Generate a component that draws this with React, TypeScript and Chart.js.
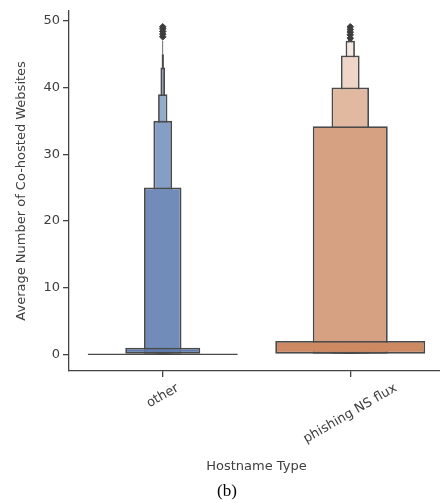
import React, { useEffect, useRef } from "react";
import { Chart, registerables } from "chart.js";
Chart.register(...registerables);

const categories = ["other", "phishing NS flux"];
// letter-value box widths (fraction of category band), widest first
const widthFractions = [0.8, 0.4, 0.2, 0.1, 0.05, 0.025, 0.0125, 0.00625];
const otherLows = [0, 0, 0, 0, 0, 0, 0, 0];
const otherTops = [0, 1, 25, 35, 39, 43, 45, 47];
const phishingLows = [0, 0, 0, 0, 0, 0, null, null];
const phishingTops = [2, 34.2, 40, 44.8, 47, 47.6, null, null];
const otherColors = ["#555555", "#5d7aad", "#718cb8", "#859ec5", "#94aacc", "#a8b9d6", "#bac8de", "#cdd7e8"];
const phishingColors = ["#cd8962", "#d6a083", "#e1b9a1", "#eed5c7", "#f5e8e2", "#f8f0ec", "#ffffff", "#ffffff"];
const otherOutliers = [47.6, 48.0, 48.4, 48.8, 49.1];
const phishingOutliers = [47.4, 47.9, 48.3, 48.7, 49.1];
const yTicks = [0, 10, 20, 30, 40, 50];
const yTitle = "Average Number of Co-hosted Websites";
const xTitle = "Hostname Type";
const caption = "(b)";

const FONT = "DejaVu Sans";
const TEXT = "#404040";
const EDGE = "#4a4a4a";

export default function App() {
  const ref = useRef<HTMLCanvasElement | null>(null);
  useEffect(() => {
    if (!ref.current) return;
    const datasets: any[] = widthFractions.map((w, i) => ({
      type: "bar",
      data: [
        [otherLows[i], otherTops[i]],
        phishingTops[i] == null ? null : [phishingLows[i], phishingTops[i]],
      ],
      backgroundColor: [otherColors[i], phishingColors[i]],
      borderColor: EDGE,
      borderWidth: 1.8,
      borderSkipped: false,
      grouped: false,
      categoryPercentage: 1,
      barPercentage: w,
      minBarLength: i === 0 ? 1.6 : 0,
      order: i,
    }));
    datasets.push({
      type: "line",
      data: [
        ...otherOutliers.map((y) => ({ x: categories[0], y })),
        ...phishingOutliers.map((y) => ({ x: categories[1], y })),
      ],
      showLine: false,
      pointStyle: "rectRot",
      pointRadius: 3.3,
      pointBackgroundColor: "#3d3d3d",
      pointBorderColor: "#3d3d3d",
      pointBorderWidth: 1,
      order: -1,
    });

    const textPlugin = {
      id: "texts",
      afterDraw(chart: any) {
        const ctx = chart.ctx;
        const xs = chart.scales.x;
        const area = chart.chartArea;
        ctx.save();
        ctx.fillStyle = TEXT;
        ctx.font = `13px "${FONT}"`;
        const ang = (30 * Math.PI) / 180;
        categories.forEach((c, i) => {
          const px = xs.getPixelForValue(i);
          const w = ctx.measureText(c).width;
          const h = 10;
          const bh = w * Math.sin(ang) + h * Math.cos(ang);
          const cy = area.bottom + 12 + bh / 2;
          ctx.save();
          ctx.translate(px, cy);
          ctx.rotate(-ang);
          ctx.textAlign = "center";
          ctx.textBaseline = "middle";
          ctx.fillText(c, 0, 0);
          ctx.restore();
        });
        ctx.textAlign = "center";
        ctx.textBaseline = "middle";
        ctx.fillText(xTitle, (area.left + area.right) / 2, 467);
        ctx.save();
        ctx.translate(22, (area.top + area.bottom) / 2);
        ctx.rotate(-Math.PI / 2);
        ctx.fillText(yTitle, 0, 0);
        ctx.restore();
        ctx.fillStyle = "#000";
        ctx.font = `17px "Liberation Serif"`;
        ctx.fillText(caption, 227, 492);
        ctx.restore();
      },
    };

    const chart = new Chart(ref.current, {
      type: "bar",
      data: { labels: categories, datasets },
      options: {
        animation: false,
        responsive: false,
        devicePixelRatio: 1,
        layout: { padding: { top: 7, left: 0, right: 0, bottom: 0 } },
        plugins: { legend: { display: false }, tooltip: { enabled: false } },
        scales: {
          x: {
            type: "category",
            offset: true,
            grid: {
              display: true,
              drawOnChartArea: false,
              drawTicks: true,
              tickLength: 6,
              color: "#444",
              lineWidth: 1.3,
              offset: false,
            },
            border: { display: true, color: "#444", width: 1.3 },
            ticks: { display: false },
            afterFit: (s: any) => {
              s.height = 132;
            },
          },
          y: {
            type: "linear",
            min: -2.5,
            max: 51.5,
            afterBuildTicks: (s: any) => {
              s.ticks = yTicks.map((v) => ({ value: v }));
            },
            grid: {
              display: true,
              drawOnChartArea: false,
              drawTicks: true,
              tickLength: 6,
              color: "#444",
              lineWidth: 1.3,
            },
            border: { display: true, color: "#444", width: 1.3 },
            ticks: {
              font: { family: FONT, size: 13 },
              color: TEXT,
              padding: 3,
            },
            afterFit: (s: any) => {
              s.width = 69;
            },
          },
        },
      },
      plugins: [textPlugin],
    } as any);
    return () => chart.destroy();
  }, []);

  return (
    <div
      style={{
        position: "fixed",
        left: 0,
        top: 0,
        width: 440,
        height: 503,
        overflow: "hidden",
        background: "#fff",
      }}
    >
      <canvas ref={ref} width={449} height={503} style={{ display: "block" }} />
    </div>
  );
}
